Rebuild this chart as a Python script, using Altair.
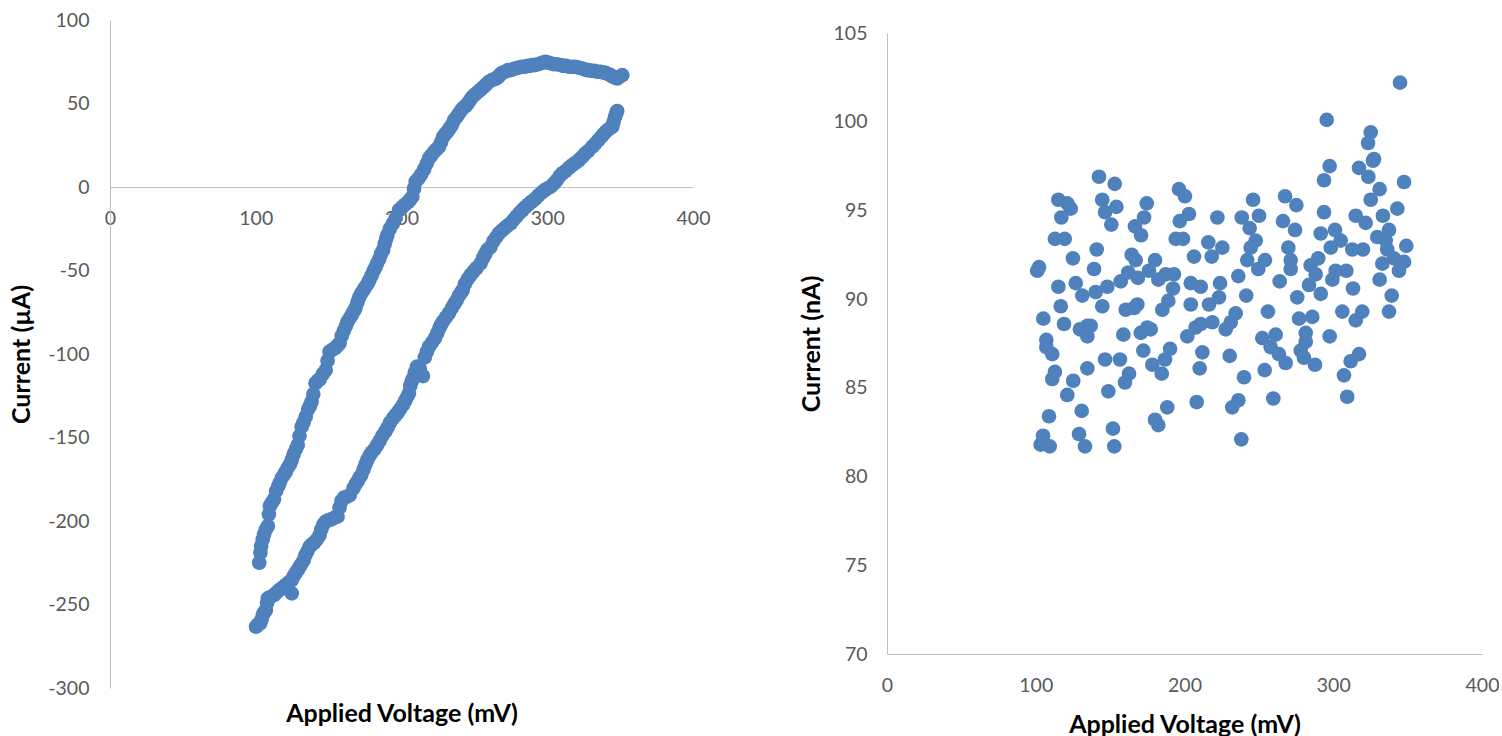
import altair as alt
import pandas as pd

# ---- Left panel: cyclic sweep (forward branch on top, return branch below) ----
upper_mv = [102.4, 103.2, 103.7, 104.8, 105.7, 107.0, 108.3, 109.0, 109.7, 111.0,
            112.5, 114.0, 115.5, 116.5, 118.0, 119.5, 120.6, 122.0, 123.5, 124.7,
            126.0, 127.5, 128.8, 130.0, 131.5, 132.8, 134.3, 136.0, 137.2, 138.3,
            139.5, 141.0, 142.5, 144.0, 146.0, 148.0, 149.3, 150.6, 152.5, 154.5,
            156.0, 157.5, 159.0, 160.5, 162.0, 163.0, 164.5, 166.0, 167.2, 168.4,
            169.8, 171.0, 172.4, 174.0, 175.5, 177.0, 178.0, 179.5, 181.0, 182.2,
            183.3, 184.8, 186.0, 187.4, 188.5, 189.5, 190.3, 192.0, 194.0, 196.0,
            198.3, 200.5, 202.5, 204.5, 206.0, 207.4, 208.6, 209.7, 211.5, 213.5,
            215.5, 217.3, 218.9, 220.5, 222.3, 224.0, 225.7, 227.2, 228.5, 229.8,
            231.4, 233.0, 234.5, 236.0, 237.8, 239.5, 241.0, 242.5, 244.0, 245.5,
            247.0, 248.6, 250.5, 252.5, 254.5, 256.5, 258.2, 260.0, 262.0, 263.5,
            265.0, 266.5, 267.8, 269.2, 271.0, 273.0, 275.0, 276.5, 278.4, 280.5,
            282.5, 284.5, 286.5, 288.0, 289.8, 291.5, 293.5, 295.5, 297.0, 298.9,
            300.5, 302.5, 304.5, 306.5, 309.2, 311.0, 313.0, 315.0, 317.5, 319.5,
            321.5, 323.5, 325.5, 327.0, 328.6, 330.5, 332.5, 334.5, 336.5, 338.5,
            340.0, 342.0, 343.5, 345.0, 346.5, 348.0, 349.5, 351.5]
upper_ua = [-225, -219, -215, -211, -208, -205, -203, -196, -191, -189,
            -187, -182, -179, -177, -174, -172, -170.5, -168, -166, -163.5,
            -160, -157, -154.5, -149, -143.5, -141, -137.5, -133, -131, -128.6,
            -124, -117.5, -116, -115, -112, -109.6, -104, -98.6, -97.5, -96.5,
            -95, -93.6, -89, -86, -83, -80.6, -78.5, -76.5, -74.5, -72.6,
            -69, -66, -63.7, -61.5, -59.5, -57.5, -55.7, -53, -50, -48,
            -45.7, -43, -40, -37.7, -34, -31, -28.7, -25, -22, -18.5,
            -13.8, -12, -10.5, -9, -7.5, -5.8, -1, 3.2, 5, 7.5,
            10.5, 14, 17.2, 19, 21, 22.5, 24.1, 27, 30, 31.5,
            33.1, 35, 37, 40, 42, 44.1, 46, 47.5, 48.5, 50,
            52, 54, 55.5, 57, 58.5, 60, 61.5, 63, 64, 64.5,
            65, 66, 67.5, 68.4, 69, 70, 70, 70.5, 71.1, 71.5,
            72, 72, 72.5, 72.5, 73, 73, 73.5, 74, 74.5, 75,
            74.5, 74, 73.5, 73.5, 73, 72.5, 72.5, 72, 72, 72,
            71.5, 71, 70.5, 70, 70, 69.5, 69.5, 69, 69, 68.5,
            68.4, 67.5, 67, 66, 65.5, 65, 66, 67]

lower_mv = [100.2, 101.5, 103.0, 104.0, 105.0, 106.0, 107.0, 107.8, 108.3, 110.0,
            112.5, 114.0, 116.0, 117.5, 119.3, 121.0, 123.0, 124.7, 124.7, 126.0,
            127.5, 128.8, 130.0, 131.5, 132.9, 134.0, 135.5, 137.0, 138.5, 140.0,
            142.0, 143.8, 145.0, 146.5, 147.9, 150.0, 152.0, 154.0, 156.1, 157.5,
            158.8, 160.5, 162.5, 164.5, 167.0, 168.5, 170.0, 171.2, 172.4, 174.0,
            175.3, 176.5, 178.0, 179.5, 181.5, 183.3, 185.0, 186.8, 188.8, 190.5,
            192.2, 194.2, 196.0, 197.5, 199.0, 201.0, 202.5, 204.0, 205.1, 206.0,
            207.0, 207.9, 209.2, 210.6, 212.5, 214.7, 216.0, 217.4, 219.0, 221.0,
            222.9, 224.5, 226.0, 227.0, 228.5, 230.5, 232.5, 234.5, 236.2, 237.9,
            239.5, 241.0, 242.0, 243.5, 245.5, 247.4, 249.5, 251.5, 254.3, 256.0,
            257.5, 259.0, 261.0, 263.0, 265.0, 266.9, 269.0, 271.0, 273.0, 275.0,
            277.0, 279.0, 281.0, 283.0, 285.0, 287.0, 289.0, 290.5, 292.1, 294.0,
            296.0, 298.0, 300.0, 302.4, 304.5, 306.5, 308.5, 310.4, 312.5, 315.0,
            317.0, 319.5, 321.8, 324.0, 326.0, 328.0, 330.9, 333.0, 335.0, 337.0,
            338.5, 340.0, 342.0, 344.6, 345.5, 346.5, 347.3, 348.0]
lower_ua = [-263.3, -262, -261.3, -259, -256, -254.5, -253.3, -249, -246.3, -245.5,
            -244.3, -243, -241.5, -240.5, -239.3, -238, -236.5, -235.3, -243.3, -233,
            -231, -229.3, -227.5, -225.5, -223.4, -220.5, -218, -215.4, -214, -213,
            -211, -208.4, -205, -202, -200.4, -199.5, -199, -198, -197.4, -192,
            -188, -186, -185.5, -184.5, -180.4, -178, -176, -174, -172.5, -169,
            -166, -163.5, -161, -159, -157, -154.5, -152, -149, -146.5, -144,
            -141, -138.5, -136.5, -135, -133, -130.5, -128, -125.5, -123.5, -119,
            -116.5, -114.6, -111, -107.6, -108.5, -113.2, -102, -98.6, -95.5, -93,
            -90.6, -87.5, -84.5, -82.6, -80.5, -78, -75.6, -72.5, -70, -67.7,
            -65, -63, -61.7, -58, -55, -52.7, -50.5, -48.5, -45.7, -42.5,
            -40, -37.5, -36, -32.5, -30, -27.7, -26, -24.5, -23, -21.7,
            -19.5, -17.5, -15.5, -13.8, -12, -10.5, -9, -8, -6.8, -5,
            -3.5, -2, -1, 0.2, 2, 4, 6.5, 8.2, 9.5, 11.5,
            13, 14.5, 16.2, 18, 20, 21.5, 24.1, 26, 28, 30,
            31.5, 33, 34.5, 36.1, 39, 42, 44, 45.5]

# ---- Right panel: current readings vs applied voltage ----
scatter_mv = [
    142.5, 153.1, 115.2, 121.2, 123.5, 117.2, 144.7, 146.6, 154.2, 150.8,
    174.6, 172.8, 166.7, 170.8, 196.3, 200.3, 203.0, 196.8, 194.1, 199.0,
    222.1, 112.9, 119.5, 141.0, 125.0, 139.2, 102.2, 101.0, 164.5, 167.2,
    180.2, 162.2, 168.7, 176.1, 182.4, 187.4, 192.9, 192.3, 115.2, 126.9,
    131.3, 140.3, 148.1, 157.1, 206.4, 216.0, 218.3, 204.2, 210.9, 223.9,
    116.8, 144.7, 168.3, 189.1, 204.2, 216.5,
    297.6, 317.3, 326.7, 293.8, 323.6, 347.6, 331.2, 325.2, 246.1, 267.6,
    275.2, 293.8, 238.5, 250.1, 266.2, 274.3, 243.8, 343.1, 315.1, 321.8,
    333.4, 291.6, 301.2, 305.0, 298.3, 312.8, 320.0, 329.6, 337.5, 335.3,
    349.1, 247.9, 244.5, 269.8, 225.4, 242.2, 254.1, 249.6, 236.2, 271.4,
    271.4, 284.8, 289.9, 288.2, 264.0, 283.7, 301.6, 308.8, 299.4, 336.3,
    340.8, 333.0, 347.6, 344.2, 331.2, 313.3, 339.3, 291.6, 275.8, 241.5,
    223.2, 256.1, 306.1, 319.5, 337.5,
    160.5, 166.1, 185.1, 105.1, 119.0, 129.7, 134.7, 136.9, 134.7, 158.9,
    170.6, 175.0, 177.3, 201.9, 207.5, 210.9, 218.7, 107.1, 107.1, 111.1,
    172.3, 190.3, 186.9, 178.4, 184.7, 212.0, 210.2, 146.6, 156.6, 134.7,
    112.9, 111.1, 125.2, 121.2, 162.7, 160.0, 148.8, 188.4, 208.2, 108.9,
    130.9, 180.2, 182.4, 151.9, 129.1, 133.1, 152.8, 104.9, 103.3, 109.4,
    234.4, 231.1, 227.7, 277.0, 285.9, 281.5, 281.5, 278.1, 280.3, 287.7,
    297.6, 252.3, 261.3, 257.9, 263.5, 268.0, 230.4, 253.9, 240.0, 259.7,
    236.2, 232.1, 238.2, 315.1, 317.3, 311.7, 307.2, 309.4,
    344.9, 295.6, 325.2, 323.4, 327.4]
scatter_na = [
    96.9, 96.5, 95.6, 95.4, 95.1, 94.6, 95.6, 94.9, 95.2, 94.2,
    95.4, 94.6, 94.1, 93.6, 96.2, 95.8, 94.8, 94.4, 93.4, 93.4,
    94.6, 93.4, 93.4, 92.8, 92.3, 91.7, 91.8, 91.6, 92.5, 92.2,
    92.2, 91.5, 91.2, 91.6, 91.1, 91.4, 91.4, 90.6, 90.7, 90.9,
    90.2, 90.4, 90.7, 91.0, 92.4, 93.2, 92.4, 90.9, 90.7, 90.9,
    89.6, 89.6, 89.7, 89.9, 89.7, 89.7,
    97.5, 97.4, 97.8, 96.7, 96.9, 96.6, 96.2, 95.6, 95.6, 95.8,
    95.3, 94.9, 94.6, 94.7, 94.4, 93.9, 94.0, 95.1, 94.7, 94.3,
    94.7, 93.7, 93.9, 93.3, 92.9, 92.8, 92.8, 93.5, 93.9, 93.3,
    93.0, 93.3, 92.9, 92.9, 92.9, 92.2, 92.2, 91.7, 91.3, 92.2,
    91.7, 91.9, 92.3, 91.4, 91.0, 90.8, 91.6, 91.6, 91.1, 92.8,
    92.3, 92.0, 92.1, 91.6, 91.1, 90.6, 90.2, 90.3, 90.1, 90.2,
    90.1, 89.3, 89.3, 89.3, 89.3,
    89.4, 89.5, 89.4, 88.9, 88.6, 88.3, 88.5, 88.5, 87.9, 88.0,
    88.1, 88.4, 88.3, 87.9, 88.4, 88.6, 88.7, 87.7, 87.3, 86.9,
    87.1, 87.2, 86.6, 86.3, 85.8, 87.0, 86.1, 86.6, 86.6, 86.1,
    85.9, 85.5, 85.4, 84.6, 85.8, 85.3, 84.8, 83.9, 84.2, 83.4,
    83.7, 83.2, 82.9, 82.7, 82.4, 81.7, 81.7, 82.3, 81.8, 81.7,
    89.2, 88.7, 88.3, 88.9, 89.0, 88.1, 87.6, 87.1, 86.7, 86.3,
    87.9, 87.8, 88.0, 87.3, 86.9, 86.4, 86.8, 86.0, 85.6, 84.4,
    84.3, 83.9, 82.1, 88.8, 86.9, 86.5, 85.7, 84.5,
    102.2, 100.1, 99.4, 98.8, 97.9]

# Axis ticks
volt_ticks = [0, 100, 200, 300, 400]
ua_ticks = [-300, -250, -200, -150, -100, -50, 0, 50, 100]
na_ticks = [70, 75, 80, 85, 90, 95, 100, 105]

FONT = "Lato"
BLUE = "#4F81BD"
AXIS_GREY = "#BFBFBF"
LABEL_GREY = "#595959"
DOT = 215
PLAIN = "'' + datum.value"   # keep an ASCII hyphen for negative numbers

loop = pd.DataFrame({"mv": upper_mv + lower_mv, "ua": upper_ua + lower_ua})
scatter = pd.DataFrame({"mv": scatter_mv, "na": scatter_na})

LW, LH = 583, 668          # left plot area
RW, RH = 595, 634          # right plot area (scale range starts 13 px down)

left = alt.Chart(loop).mark_circle(size=DOT, color=BLUE, opacity=1).encode(
    x=alt.X("mv:Q",
            scale=alt.Scale(domain=[0, 400], nice=False, zero=False),
            axis=alt.Axis(values=volt_ticks, offset=-501, labelPadding=22,
                          labelExpr=PLAIN,
                          title="Applied Voltage (mV)", titleX=LW / 2, titleY=526,
                          titleBaseline="middle", titleAlign="center")),
    y=alt.Y("ua:Q",
            scale=alt.Scale(domain=[-300, 100], nice=False, zero=False),
            axis=alt.Axis(values=ua_ticks, labelPadding=21, labelExpr=PLAIN,
                          title="Current (µA)", titleX=-89, titleY=LH / 2,
                          titleBaseline="middle", titleAlign="center", titleAngle=-90)),
).properties(width=LW, height=LH)

right = alt.Chart(scatter).mark_circle(size=DOT, color=BLUE, opacity=1).encode(
    x=alt.X("mv:Q",
            scale=alt.Scale(domain=[0, 400], nice=False, zero=False),
            axis=alt.Axis(values=volt_ticks, labelPadding=22, labelExpr=PLAIN,
                          title="Applied Voltage (mV)", titleX=RW / 2, titleY=70,
                          titleBaseline="middle", titleAlign="center")),
    y=alt.Y("na:Q",
            scale=alt.Scale(domain=[70, 105], range=[RH, 13], nice=False, zero=False),
            axis=alt.Axis(values=na_ticks, labelPadding=20, labelExpr=PLAIN,
                          title="Current (nA)", titleX=-76, titleY=(RH + 13) / 2,
                          titleBaseline="middle", titleAlign="center", titleAngle=-90)),
).properties(width=RW, height=RH)

chart = alt.hconcat(left, right, spacing=194, bounds="flush").properties(
    padding={"left": 9, "top": 10, "right": 0, "bottom": 0},
    background="white",
).configure_view(stroke=None).configure_axis(
    grid=False,
    ticks=False,
    domainColor=AXIS_GREY,
    domainWidth=1,
    labelFlush=False,
    labelColor=LABEL_GREY,
    labelFont=FONT,
    labelFontSize=19.5,
    titleFont=FONT,
    titleFontSize=25,
    titleFontWeight="bold",
    titleColor="black",
)

chart.save("out.html", embed_options={"renderer": "svg", "actions": False})
